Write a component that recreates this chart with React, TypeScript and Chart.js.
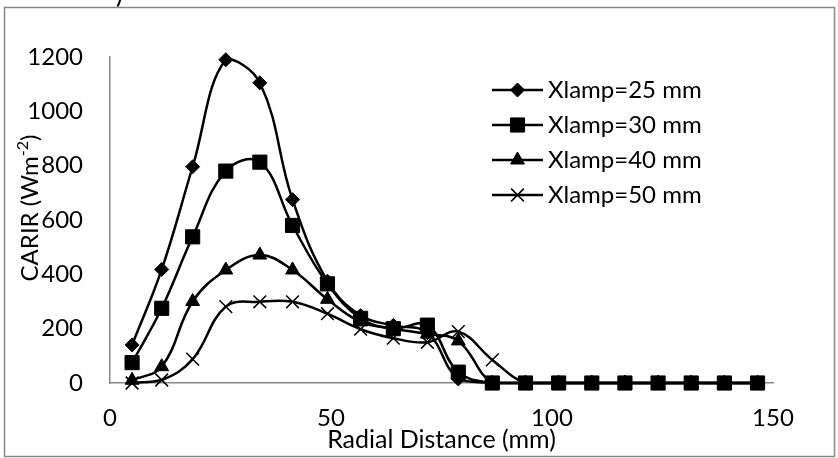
import React, { useEffect, useRef } from "react";
import { Chart, registerables } from "chart.js";
import { drawPoint } from "chart.js/helpers";

Chart.register(...registerables);

// ---- data ----
const radialDistance = [5, 11.7, 18.7, 26.2, 33.9, 41.3, 49.2, 56.7, 64.1, 71.8, 78.8, 86.5, 94, 101.5, 109, 116.5, 124, 131.5, 139, 146.5];
const xlamp25 = [140, 418, 796, 1190, 1105, 675, 375, 248, 212, 185, 15, 0, 0, 0, 0, 0, 0, 0, 0, 0];
const xlamp30 = [75, 275, 538, 780, 813, 580, 365, 238, 200, 213, 40, 0, 0, 0, 0, 0, 0, 0, 0, 0];
const xlamp40 = [10, 60, 300, 416, 471, 416, 308, 225, 200, 180, 155, 0, 0, 0, 0, 0, 0, 0, 0, 0];
const xlamp50 = [0, 11, 88, 281, 299, 299, 255, 198, 165, 150, 189, 85, 0, 0, 0, 0, 0, 0, 0, 0];
const seriesLabels = ["Xlamp=25 mm", "Xlamp=30 mm", "Xlamp=40 mm", "Xlamp=50 mm"];
const seriesMarkers = ["rectRot", "rect", "triangle", "crossRot"];
const markerSizes = [7, 10, 8, 9];
const xTickValues = [0, 50, 100, 150];
const yTickValues = [0, 200, 400, 600, 800, 1000, 1200];
const xTitle = "Radial Distance (mm)";
const yTitleMain = "CARIR (Wm";
const yTitleSup = "-2";
const yTitleEnd = ")";

const FONT = "Lato, 'Open Sans', sans-serif";
const FS = 24;

const decorPlugin = {
  id: "decor",
  afterDraw(chart: any) {
    const ctx = chart.ctx;
    const area = chart.chartArea;
    ctx.save();
    // outer frame
    ctx.strokeStyle = "#868686";
    ctx.lineWidth = 1.5;
    ctx.strokeRect(4.5, 7.5, 830, 449);

    // clipped fragment from above
    ctx.fillStyle = "#000";
    ctx.font = `${FS + 2}px ${FONT}`;
    ctx.textBaseline = "alphabetic";
    ctx.textAlign = "left";
    ctx.fillText(")", 116, 3);

    // x title
    ctx.font = `${FS + 1}px ${FONT}`;
    ctx.textAlign = "center";
    ctx.textBaseline = "middle";
    ctx.fillText(xTitle, (area.left + area.right) / 2, 440);

    // y title (rotated, with superscript)
    ctx.save();
    ctx.translate(30, 208);
    ctx.rotate(-Math.PI / 2);
    ctx.font = `${FS}px ${FONT}`;
    const wMain = ctx.measureText(yTitleMain).width;
    ctx.font = `${Math.round(FS * 0.65)}px ${FONT}`;
    const wSup = ctx.measureText(yTitleSup).width;
    ctx.font = `${FS}px ${FONT}`;
    const wEnd = ctx.measureText(yTitleEnd).width;
    const total = wMain + wSup + wEnd;
    let cx = -total / 2;
    ctx.textAlign = "left";
    ctx.textBaseline = "middle";
    ctx.fillText(yTitleMain, cx, 0);
    cx += wMain;
    ctx.font = `${Math.round(FS * 0.65)}px ${FONT}`;
    ctx.fillText(yTitleSup, cx, -7);
    cx += wSup;
    ctx.font = `${FS}px ${FONT}`;
    ctx.fillText(yTitleEnd, cx, 0);
    ctx.restore();

    // legend
    const rowsY = [90, 125, 160, 195];
    chart.data.datasets.forEach((ds: any, i: number) => {
      const y = rowsY[i];
      ctx.strokeStyle = "#000";
      ctx.lineWidth = 2.5;
      ctx.beginPath();
      ctx.moveTo(492, y);
      ctx.lineTo(543, y);
      ctx.stroke();
      ctx.fillStyle = "#000";
      ctx.strokeStyle = "#000";
      ctx.lineWidth = ds.pointBorderWidth;
      drawPoint(ctx, { pointStyle: ds.pointStyle, radius: ds.pointRadius, rotation: 0, borderWidth: ds.pointBorderWidth }, 517.5, y);
      ctx.fillStyle = "#000";
      ctx.font = `${FS}px ${FONT}`;
      ctx.textAlign = "left";
      ctx.textBaseline = "middle";
      ctx.fillText(ds.label, 548, y);
    });
    ctx.restore();
  },
};

export default function App() {
  const canvasRef = useRef<HTMLCanvasElement | null>(null);

  useEffect(() => {
    if (!canvasRef.current) return;
    const series = [xlamp25, xlamp30, xlamp40, xlamp50];
    const datasets = series.map((vals, i) => ({
      label: seriesLabels[i],
      data: vals.map((v, j) => ({ x: radialDistance[j], y: v })),
      borderColor: "#000",
      backgroundColor: "#000",
      borderWidth: 2.5,
      tension: 0.4,
      pointStyle: seriesMarkers[i],
      pointRadius: markerSizes[i],
      pointBackgroundColor: "#000",
      pointBorderColor: "#000",
      pointBorderWidth: seriesMarkers[i] === "crossRot" ? 1.5 : 1,
      clip: 10,
    }));

    const chart = new Chart(canvasRef.current, {
      type: "line",
      data: { datasets },
      plugins: [decorPlugin],
      options: {
        animation: false,
        responsive: true,
        maintainAspectRatio: false,
        layout: { padding: { left: 0, top: 57, right: 838 - 773, bottom: 0 } },
        plugins: {
          legend: { display: false },
          tooltip: { enabled: false },
        },
        scales: {
          x: {
            type: "linear",
            min: 0,
            max: 150,
            afterBuildTicks: (s: any) => {
              s.ticks = xTickValues.map((v) => ({ value: v }));
            },
            ticks: {
              padding: 21,
              color: "#000",
              font: { family: FONT, size: FS },
              maxRotation: 0,
              autoSkip: false,
              callback: (v: any) => String(v),
            },
            grid: { display: false, drawTicks: false },
            border: { color: "#868686", width: 1.5 },
            afterFit: (s: any) => {
              s.height = 458 - 383;
            },
          },
          y: {
            min: 0,
            max: 1200,
            afterBuildTicks: (s: any) => {
              s.ticks = yTickValues.map((v) => ({ value: v }));
            },
            ticks: {
              padding: 27,
              color: "#000",
              font: { family: FONT, size: FS },
              callback: (v: any) => String(v),
            },
            grid: { display: false, drawTicks: false },
            border: { color: "#868686", width: 1.5 },
            afterFit: (s: any) => {
              s.width = 110;
            },
          },
        },
      },
    });
    return () => chart.destroy();
  }, []);

  return (
    <div style={{ position: "absolute", left: 0, top: 0, width: 838, height: 458, background: "#fff" }}>
      <canvas ref={canvasRef} />
    </div>
  );
}
